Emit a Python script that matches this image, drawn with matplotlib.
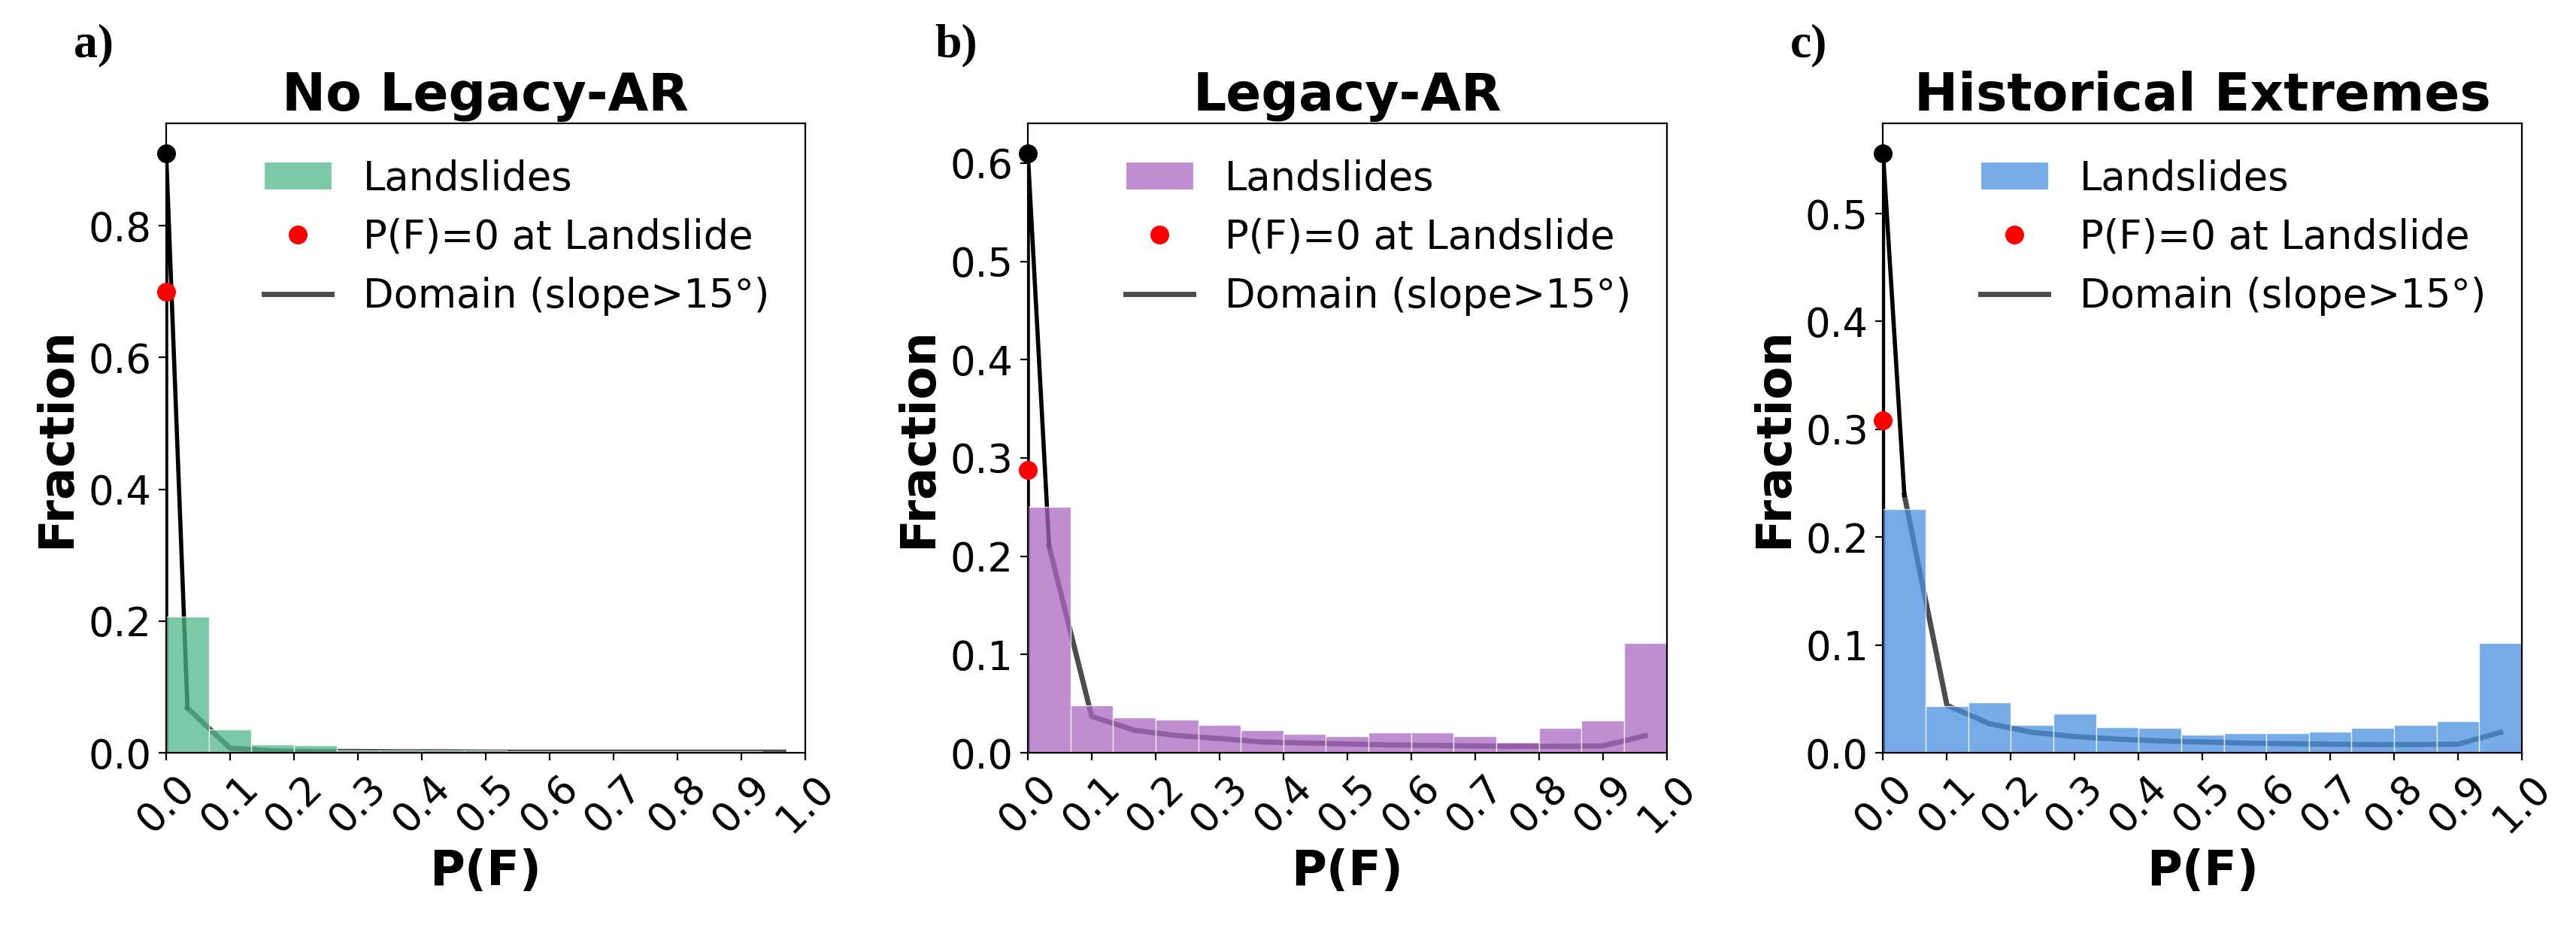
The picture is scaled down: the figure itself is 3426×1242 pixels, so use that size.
import numpy as np
import matplotlib.pyplot as plt

# 15 bins on P(F) in [0, 1]
edges = np.linspace(0, 1, 16)
centers = 0.5 * (edges[:-1] + edges[1:])

titles = ["No Legacy-AR", "Legacy-AR", "Historical Extremes"]
panel_labels = ["a)", "b)", "c)"]
colors = ["#4fb88a", "#a968c2", "#4a8fe0"]

# landslide fraction per bin
land_a = [0.207, 0.036, 0.013, 0.011, 0.004, 0.003, 0.003, 0.003, 0.002, 0.002, 0.002, 0.002, 0.002, 0.002, 0.001]
land_b = [0.250, 0.048, 0.036, 0.034, 0.028, 0.023, 0.019, 0.017, 0.021, 0.021, 0.017, 0.011, 0.025, 0.033, 0.112]
land_c = [0.226, 0.043, 0.047, 0.0255, 0.036, 0.024, 0.023, 0.017, 0.018, 0.018, 0.0195, 0.023, 0.0255, 0.029, 0.102]

# domain (slope>15) fraction per bin
dom_a = [0.068, 0.007, 0.003, 0.002, 0.002, 0.0015, 0.0015, 0.001, 0.001, 0.001, 0.001, 0.001, 0.001, 0.001, 0.001]
dom_b = [0.21, 0.037, 0.023, 0.0175, 0.0145, 0.011, 0.010, 0.009, 0.008, 0.0075, 0.007, 0.0066, 0.0066, 0.007, 0.0175]
dom_c = [0.239, 0.044, 0.027, 0.019, 0.015, 0.0127, 0.011, 0.010, 0.009, 0.0084, 0.008, 0.0076, 0.0076, 0.008, 0.019]

# domain fraction with P(F)=0 exactly, landslides with P(F)=0
dom_zero = [0.91, 0.61, 0.556]
land_zero = [0.70, 0.288, 0.308]

lands = [land_a, land_b, land_c]
doms = [dom_a, dom_b, dom_c]

fig = plt.figure(figsize=(17.13, 6.21), dpi=200)
lefts = [0.0645, 0.399, 0.731]

for i in range(3):
    ax = fig.add_axes([lefts[i], 0.194, 0.248, 0.674])
    d = doms[i]
    ax.plot([0, 0, centers[0]], [0, dom_zero[i], d[0]], color='k', lw=2, zorder=1)
    ax.plot(centers, d, color='k', alpha=0.7, lw=2.5, zorder=1, label='Domain (slope>15°)')
    ax.bar(edges[:-1], lands[i], width=np.diff(edges), align='edge', color=colors[i],
           alpha=0.75, edgecolor='white', linewidth=0.5, zorder=2, label='Landslides')
    ax.plot(0, dom_zero[i], 'o', color='k', ms=8, zorder=4, clip_on=False)
    ax.plot(0, land_zero[i], 'o', color='red', ms=8, zorder=4, clip_on=False,
            ls='none', label='P(F)=0 at Landslide')
    ax.set_xlim(0, 1)
    ax.set_ylim(0, dom_zero[i] * 1.05)
    ax.set_xticks(np.arange(0, 1.01, 0.1))
    ax.set_xticklabels([f"{v:.1f}" for v in np.arange(0, 1.01, 0.1)], rotation=45)
    ax.tick_params(labelsize=19)
    ax.set_title(titles[i], fontsize=25, fontweight='bold')
    ax.set_xlabel('P(F)', fontsize=23, fontweight='bold')
    ax.set_ylabel('Fraction', fontsize=23, fontweight='bold')
    h, l = ax.get_legend_handles_labels()
    order = [l.index('Landslides'), l.index('P(F)=0 at Landslide'), l.index('Domain (slope>15°)')]
    ax.legend([h[k] for k in order], [l[k] for k in order], fontsize=19, frameon=False,
              loc='upper right', handlelength=1.7)
    fig.text(lefts[i] - 0.036, 0.975, panel_labels[i], fontsize=23, fontweight='bold',
             family='Liberation Serif', va='top')

fig.savefig('out.png')
